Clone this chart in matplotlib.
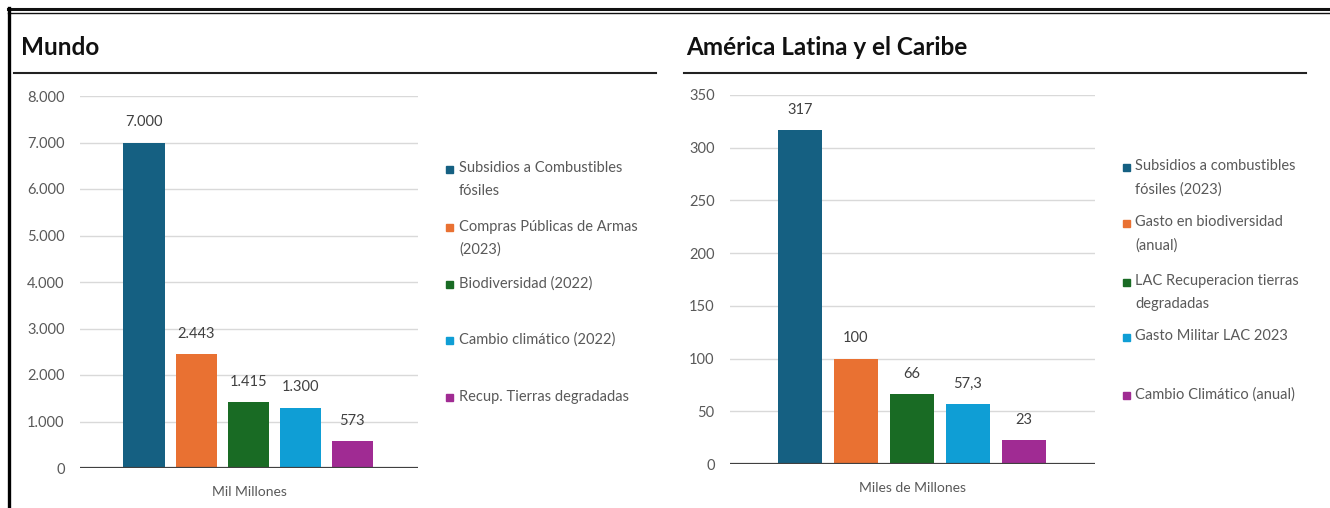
import matplotlib.pyplot as plt
from matplotlib.lines import Line2D
from matplotlib.patches import Rectangle
from matplotlib.ticker import FuncFormatter

# datos
mundo_labels = ["Subsidios a Combustibles\nfósiles",
                "Compras Públicas de Armas\n(2023)",
                "Biodiversidad (2022)",
                "Cambio climático (2022)",
                "Recup. Tierras degradadas"]
mundo_values = [7000, 2443, 1415, 1300, 573]

lac_labels = ["Subsidios a combustibles\nfósiles (2023)",
              "Gasto en biodiversidad\n(anual)",
              "LAC Recuperacion tierras\ndegradadas",
              "Gasto Militar LAC 2023",
              "Cambio Climático (anual)"]
lac_values = [317, 100, 66, 57.3, 23]

colors = ["#156082", "#E97132", "#196B24", "#0F9ED5", "#A02B93"]

W, H = 1330, 508
plt.rcParams['font.family'] = ['Lato', 'DejaVu Sans']
TXT = "#595959"


def fmt(v, pos=None):
    if float(v).is_integer():
        return f"{v:,.0f}".replace(",", ".")
    return f"{v:.1f}".replace(".", ",")


def fx(px):
    return px / W


def fy(py):
    return 1 - py / H


def panel(fig, rect, values, ymax, ystep, xlabel, xlim):
    x0, ytop, x1, ybot = rect
    ax = fig.add_axes([fx(x0), fy(ybot), fx(x1 - x0), (ybot - ytop) / H])
    pos = range(len(values))
    ax.bar(pos, values, width=0.79, color=colors, zorder=3)
    for p, v in zip(pos, values):
        ax.annotate(fmt(v), (p, v), xytext=(0, 14.5), textcoords="offset points",
                    ha="center", va="center", fontsize=10.5, color="#404040")
    ax.set_ylim(0, ymax)
    ax.set_xlim(*xlim)
    ax.set_yticks([i * ystep for i in range(int(ymax / ystep) + 1)])
    ax.yaxis.set_major_formatter(FuncFormatter(fmt))
    ax.tick_params(axis="y", length=0, pad=11, labelsize=10.5, labelcolor=TXT)
    ax.set_xticks([])
    for s in ax.spines.values():
        s.set_visible(False)
    ax.yaxis.grid(True, color="#d9d9d9", lw=1, zorder=0)
    ax.axhline(0, color="#404040", lw=1.6, zorder=4)
    ax.set_xlabel(xlabel, fontsize=10, color=TXT, labelpad=13)
    return ax


def legend(fig, labels, sq_x, txt_x, ys):
    for lab, c, y in zip(labels, colors, ys):
        fig.patches.append(Rectangle((fx(sq_x), fy(y + 3.5)), fx(7), 7 / H,
                                     transform=fig.transFigure, color=c))
        fig.text(fx(txt_x), fy(y - 7.5), lab, ha="left", va="top", fontsize=10.5,
                 color=TXT, linespacing=1.8)


fig = plt.figure(figsize=(W / 100, H / 100), dpi=100)

# marco
fig.add_artist(Line2D([fx(8), 1], [fy(8.5), fy(8.5)], color="#111111", lw=2.2))
fig.add_artist(Line2D([fx(8), 1], [fy(13), fy(13)], color="#111111", lw=1))
fig.add_artist(Line2D([fx(9), fx(9)], [fy(8), 0], color="#000000", lw=2.4))

# titulos
fig.text(fx(21), fy(47), "Mundo", fontsize=17.5, fontweight="bold", va="center", color="#111111")
fig.text(fx(686), fy(47), "América Latina y el Caribe", fontsize=17.5, fontweight="bold",
         va="center", color="#111111")
fig.add_artist(Line2D([fx(14), fx(656)], [fy(73), fy(73)], color="#222222", lw=1.5))
fig.add_artist(Line2D([fx(684), fx(1306)], [fy(73), fy(73)], color="#222222", lw=1.5))

panel(fig, (80, 96, 418, 468), mundo_values, 8000, 1000, "Mil Millones", (-1.23, 5.26))
panel(fig, (730, 95, 1095, 464), lac_values, 350, 50, "Miles de Millones", (-1.25, 5.27))

legend(fig, mundo_labels, 446, 459, [169, 227, 284, 340, 397])
legend(fig, lac_labels, 1123, 1135, [167, 223, 282, 337, 395])

fig.savefig("out.png", dpi=100)
